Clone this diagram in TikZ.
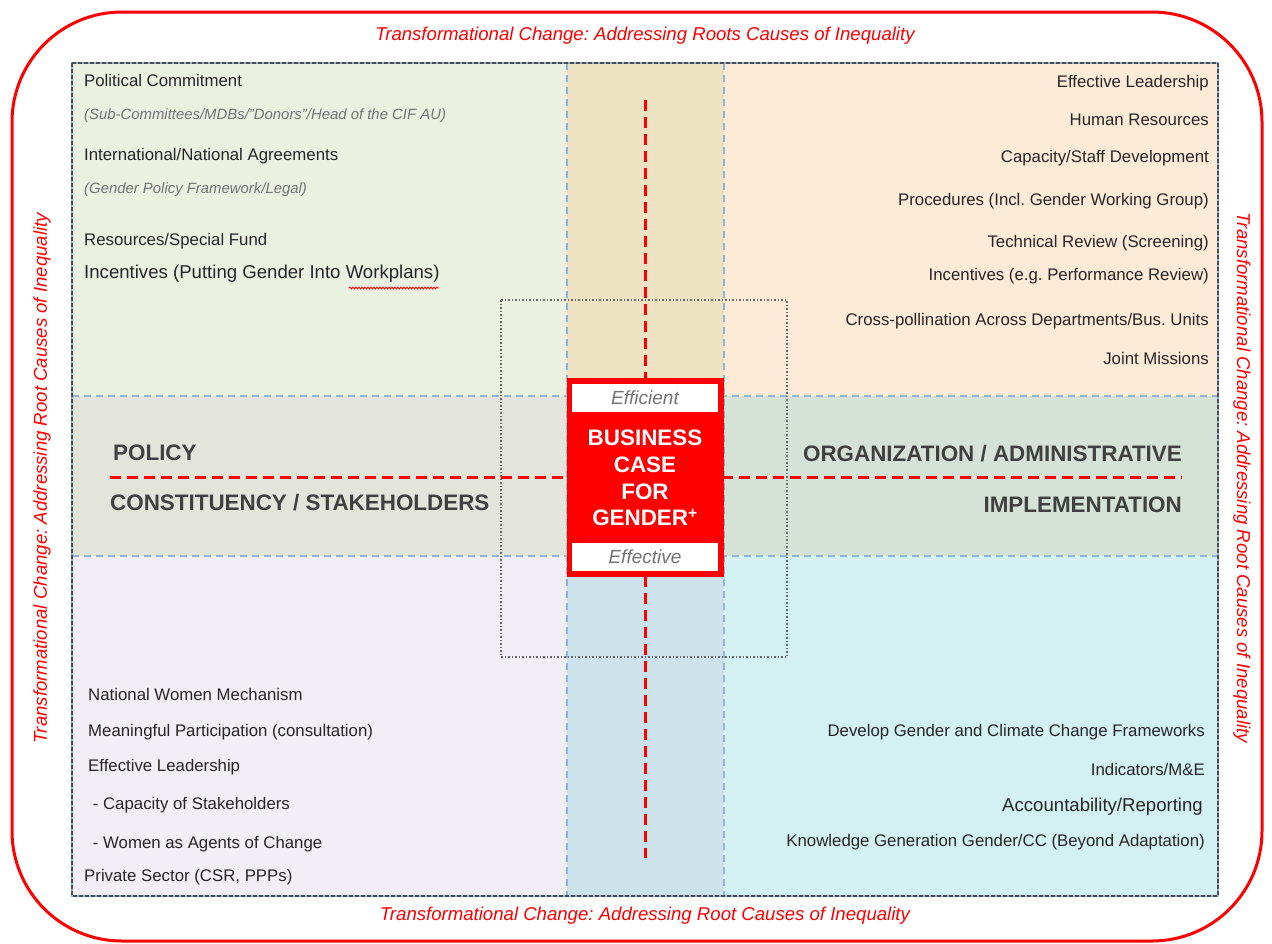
\documentclass[tikz,border=0pt]{standalone}
\usepackage{fontspec}
\setmainfont{Liberation Sans}
\usetikzlibrary{decorations.pathmorphing}

\definecolor{tlgreen}{HTML}{EAF1E0}
\definecolor{tmtan}{HTML}{EDE3C3}
\definecolor{trpeach}{HTML}{FDEBD8}
\definecolor{mlgray}{HTML}{E3E5DB}
\definecolor{mrgreen}{HTML}{D4E2D7}
\definecolor{bllav}{HTML}{F2EEF5}
\definecolor{bmblue}{HTML}{CDE3EC}
\definecolor{brcyan}{HTML}{D3F0F3}
\definecolor{bandblue}{HTML}{8FB4D6}
\definecolor{labelgray}{HTML}{404040}

\begin{document}
\frenchspacing
\begin{tikzpicture}[x=1pt,y=-1pt]
  % some styles
  \tikzset{
    item/.style={font=\fontsize{16.8}{19}\selectfont, text=black!85, inner sep=0pt},
    bigitem/.style={font=\fontsize{18.6}{21}\selectfont, text=black!85, inner sep=0pt},
    note/.style={font=\fontsize{14.9}{17}\selectfont\itshape, text=black!55, inner sep=0pt},
    heading/.style={font=\fontsize{22.4}{25}\selectfont\bfseries, text=labelgray, inner sep=0pt},
    rootnote/.style={font=\fontsize{18.6}{21}\selectfont\itshape, text=red, inner sep=0pt},
    bandline/.style={draw=bandblue, line width=1.8pt, dash pattern=on 7pt off 5pt},
    axis/.style={draw=red, line width=3pt, dash pattern=on 11pt off 6pt},
    tag/.style={draw=red, line width=1.5pt, fill=white, minimum width=148pt,
      minimum height=30pt, font=\fontsize{19}{22}\selectfont\itshape,
      text=black!55, inner sep=0pt}
  }
  \useasboundingbox (0,0) rectangle (1272,943);

  % outer frame
  \draw[red, line width=3pt, rounded corners=110pt] (12,12) rectangle (1262,941);

  % cells
  \fill[tlgreen] (72,63) rectangle (567,396);
  \fill[tmtan] (567,63) rectangle (724,396);
  \fill[trpeach] (724,63) rectangle (1218,396);
  \fill[mlgray] (72,396) rectangle (567,556);
  \fill[mrgreen] (724,396) rectangle (1218,556);
  \fill[bllav] (72,556) rectangle (567,896);
  \fill[bmblue] (567,556) rectangle (724,896);
  \fill[brcyan] (724,556) rectangle (1218,896);

  % bands
  \foreach \x in {567,724}
    \draw[bandline] (\x,63) -- (\x,896);
  \foreach \y in {396,556}
    \draw[bandline] (72,\y) -- (1218,\y);

  % frame of the grid
  \draw[bandblue, line width=1.2pt] (72,63) rectangle (1218,896);
  \draw[black!70, line width=1.2pt, dash pattern=on 4pt off 2pt] (72,63) rectangle (1218,896);

  % zone of overlap
  \draw[black!60, line width=1.5pt, dotted] (501,300) rectangle (787,657);

  % axes
  \coordinate (ntop) at (645,100);
  \coordinate (nbot) at (645,858);
  \coordinate (wend) at (110,477);
  \coordinate (eend) at (1182,477);
  \draw[axis] (ntop) -- (nbot);
  \draw[axis] (wend) -- (eend);

  % business case
  \node[draw=red, fill=red, line width=2pt, minimum width=155pt, minimum height=197pt,
    inner sep=0pt] (bcase) at (645,477.5) {};
  \node[tag] (efficient) at (645,398) {Efficient};
  \node[tag] (effective) at (645,557) {Effective};
  \node[font=\fontsize{22.4}{26.7}\selectfont\bfseries, text=white, align=center,
    inner sep=0pt] (bctext) at (645,478) {BUSINESS\\CASE\\FOR\\GENDER\textsuperscript{+}};

  % side notes
  \node[rootnote] (topnote) at (645,36) {Transformational Change: Addressing Roots Causes of Inequality};
  \node[rootnote] (botnote) at (645,916) {Transformational Change: Addressing Root Causes of Inequality};
  \node[rootnote, rotate=90] (leftnote) at (42,478) {Transformational Change: Addressing Root Causes of Inequality};
  \node[rootnote, rotate=-90] (rightnote) at (1242,478) {Transformational Change: Addressing Root Causes of Inequality};

  % axis labels
  \node[heading, anchor=west] (policy) at (113,453) {POLICY};
  \node[heading, anchor=west] (constit) at (110,503) {CONSTITUENCY / STAKEHOLDERS};
  \node[heading, anchor=east] (orga) at (1182,454) {ORGANIZATION / ADMINISTRATIVE};
  \node[heading, anchor=east] (implem) at (1182,505) {IMPLEMENTATION};

  % policy
  \foreach \y/\t [count=\i] in {80/{Political Commitment},
      156/{International/National Agreements}, 241/{Resources/Special Fund}}
    \node[item, anchor=west] (pol\i) at (84,\y) {\t};
  \node[note, anchor=west] (polnote1) at (84,116) {(Sub-Committees/MDBs/"Donors"/Head of the CIF AU)};
  \node[note, anchor=west] (polnote2) at (84,190) {(Gender Policy Framework/Legal)};
  \node[bigitem, anchor=west] (polinc) at (84,274) {Incentives (Putting Gender Into Workplans)};
  \draw[red, line width=0.8pt, decorate, decoration={snake, amplitude=1pt, segment length=3pt}]
    (349,288) -- (439,288);

  % organization
  \foreach \y/\t [count=\i] in {83/{Effective Leadership}, 120/{Human Resources},
      158/{Capacity/Staff Development}, 201/{Procedures (Incl. Gender Working Group)},
      243/{Technical Review (Screening)}, 276/{Incentives (e.g. Performance Review)},
      321/{Cross-pollination Across Departments/Bus. Units}, 358/{Joint Missions}}
    \node[item, anchor=east] (org\i) at (1209,\y) {\t};

  % constituency
  \foreach \y/\t [count=\i] in {694/{National Women Mechanism},
      732/{Meaningful Participation (consultation)}, 767/{Effective Leadership},
      805/{~- Capacity of Stakeholders}, 844/{~- Women as Agents of Change}}
    \node[item, anchor=west] (con\i) at (88,\y) {\t};
  \node[item, anchor=west] (con6) at (84,877) {Private Sector (CSR, PPPs)};

  % implementation
  \foreach \y/\t [count=\i] in {732/{Develop Gender and Climate Change Frameworks},
      769/{Indicators/M\&E}, 842/{Knowledge Generation Gender/CC (Beyond Adaptation)}}
    \node[item, anchor=east] (imp\i) at (1205,\y) {\t};
  \node[bigitem, anchor=east] (impacc) at (1203,807) {Accountability/Reporting};

\end{tikzpicture}
\end{document}
